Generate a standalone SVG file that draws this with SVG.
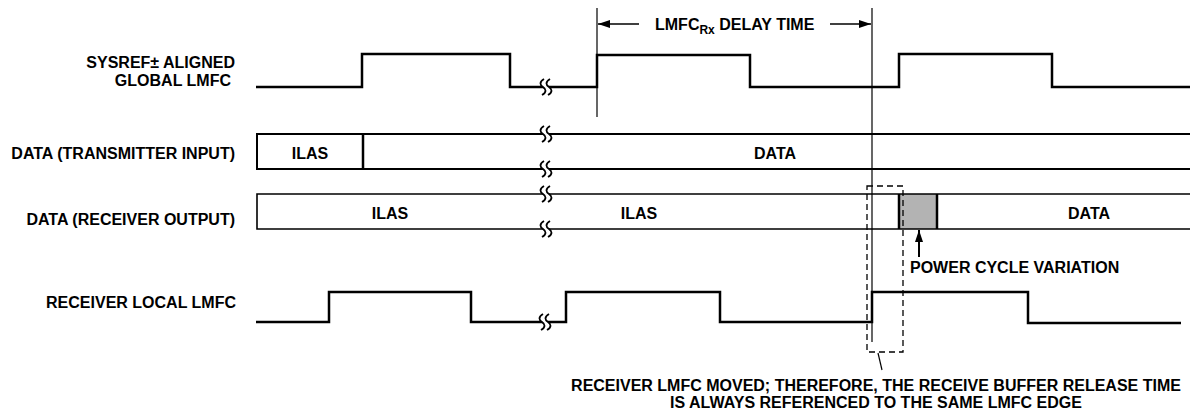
<svg xmlns="http://www.w3.org/2000/svg" width="1190" height="413" viewBox="0 0 1190 413">
<style>
text{font-family:"Liberation Sans",Arial,sans-serif;font-weight:bold;font-size:16px;fill:#000}
.sig{fill:none;stroke:#000;stroke-width:2.5;stroke-linejoin:miter}
.row{fill:none;stroke:#000;stroke-width:2}
.rowt{fill:none;stroke:#000;stroke-width:1.6}
.thin{fill:none;stroke:#000;stroke-width:1.2}
.dash{fill:none;stroke:#000;stroke-width:1.3;stroke-dasharray:6 4}
.mid{text-anchor:middle}
.end{text-anchor:end}
</style>
<defs>
<g id="brk">
<path d="M-2,-8 C-7,-5 -6,-2 -3,0 C0,2 1,5 -4,8 L2,8 C7,5 6,2 3,0 C0,-2 -1,-5 4,-8 Z" fill="#fff"/>
<path d="M-2,-8 C-7,-5 -6,-2 -3,0 C0,2 1,5 -4,8" fill="none" stroke="#000" stroke-width="1.8"/>
<path d="M4,-8 C-1,-5 0,-2 3,0 C6,2 7,5 2,8" fill="none" stroke="#000" stroke-width="1.8"/>
</g>
<marker id="ah" viewBox="0 0 12 8" refX="12" refY="4" markerWidth="12" markerHeight="8" markerUnits="userSpaceOnUse" orient="auto">
<path d="M0,0 L12,4 L0,8 Z" fill="#000"/>
</marker>
</defs>

<g id="sysref">
<text class="end" x="235" y="68">SYSREF± ALIGNED</text>
<text class="end" x="231" y="86">GLOBAL LMFC</text>
<path class="sig" d="M256,87 H362 V54 H510 V87 H597 V55 H750 V87 H899 V54 H1052 V87 H1190"/>
<use href="#brk" x="546" y="87"/>
</g>

<g id="tx">
<text class="end" x="235" y="159">DATA (TRANSMITTER INPUT)</text>
<path class="row" d="M1190,134 H257 V169 H1190"/>
<line x1="363" y1="134" x2="363" y2="169" stroke="#000" stroke-width="2.5"/>
<text class="mid" x="310" y="159">ILAS</text>
<text class="mid" x="775" y="159">DATA</text>
<use href="#brk" x="546" y="134"/>
<use href="#brk" x="546" y="169"/>
</g>

<g id="rx">
<text class="end" x="235" y="225">DATA (RECEIVER OUTPUT)</text>
<rect x="899" y="194" width="38" height="35" fill="#b3b3b3"/>
<path class="rowt" d="M1190,194 H257 V229 H1190"/>
<line x1="899" y1="194" x2="899" y2="229" stroke="#000" stroke-width="2.5"/>
<line x1="937" y1="194" x2="937" y2="229" stroke="#000" stroke-width="2.5"/>
<text class="mid" x="390" y="219">ILAS</text>
<text class="mid" x="639" y="219">ILAS</text>
<text class="mid" x="1089" y="219">DATA</text>
<use href="#brk" x="546" y="194"/>
<use href="#brk" x="546" y="229"/>
</g>

<g id="rxlmfc">
<text class="end" x="236" y="308">RECEIVER LOCAL LMFC</text>
<path class="sig" d="M256,322 H329 V292 H471 V322 H566 V292 H720 V322 H872 V292 H1028 V323 H1181"/>
<use href="#brk" x="545" y="322"/>
</g>

<g id="delay">
<text x="655" y="30">LMFC<tspan font-size="12" dy="4">Rx</tspan><tspan dy="-4"> DELAY TIME</tspan></text>
</g>

<g id="annot">
<rect class="dash" x="867" y="186" width="36" height="166"/>
<text x="910" y="273">POWER CYCLE VARIATION</text>
<text class="mid" x="876" y="391">RECEIVER LMFC MOVED; THEREFORE, THE RECEIVE BUFFER RELEASE TIME</text>
<text class="mid" x="876" y="408">IS ALWAYS REFERENCED TO THE SAME LMFC EDGE</text>
</g>

<g id="connectors">
<line class="thin" x1="597" y1="8" x2="597" y2="117"/>
<line class="thin" x1="872" y1="8" x2="872" y2="342"/>
<line x1="639" y1="24" x2="598" y2="24" stroke="#000" stroke-width="1.5" marker-end="url(#ah)"/>
<line x1="830" y1="24" x2="871" y2="24" stroke="#000" stroke-width="1.5" marker-end="url(#ah)"/>
<line x1="919" y1="257" x2="919" y2="230" stroke="#000" stroke-width="2" marker-end="url(#ah)"/>
<line class="thin" x1="878" y1="353" x2="882" y2="370"/>
</g>
</svg>
